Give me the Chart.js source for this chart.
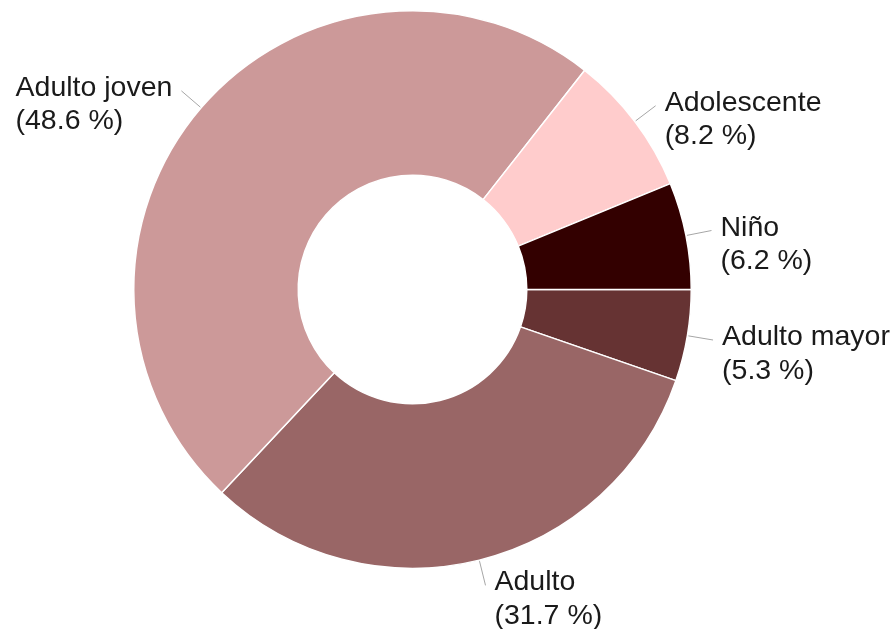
<!DOCTYPE html>
<html lang="es">
<head>
<meta charset="utf-8">
<title>Distribución por grupo de edad</title>
<script src="https://cdn.jsdelivr.net/npm/chart.js@4.4.1/dist/chart.umd.min.js"></script>
<style>
    html, body {
        margin: 0;
        padding: 0;
        background: #ffffff;
    }
    .chart-wrap {
        position: relative;
        width: 896px;
        height: 629px;
    }
</style>
</head>
<body>
<div class="chart-wrap">
    <canvas id="edadChart"></canvas>
</div>
<script>
// Grupos de edad, en orden desde las 3 en punto y en sentido horario
const grupos = ['Adulto mayor', 'Adulto', 'Adulto joven', 'Adolescente', 'Niño'];
const porcentajes = [5.3, 31.7, 48.6, 8.2, 6.2];
const colores = ['#663333', '#996666', '#cc9999', '#ffcccc', '#330000'];

document.addEventListener('DOMContentLoaded', function() {
    initEdadChart();
});

/**
 * Etiquetas fuera del anillo con línea guía
 */
const etiquetasExternas = {
    id: 'etiquetasExternas',
    afterDatasetsDraw(chart) {
        const ctx = chart.ctx;
        const arcs = chart.getDatasetMeta(0).data;
        const lineHeight = 33.5;

        ctx.save();
        ctx.font = '28.5px "Liberation Sans", Arial, sans-serif';
        ctx.textBaseline = 'alphabetic';
        ctx.textAlign = 'left';

        arcs.forEach((arc, i) => {
            const mid = (arc.startAngle + arc.endAngle) / 2;
            const cos = Math.cos(mid);
            const sin = Math.sin(mid);
            const r0 = arc.outerRadius + 1;
            const r1 = arc.outerRadius + 26;

            const x0 = arc.x + cos * r0;
            const y0 = arc.y + sin * r0;
            const x1 = arc.x + cos * r1;
            const y1 = arc.y + sin * r1;

            // línea guía
            ctx.strokeStyle = '#a6a6a6';
            ctx.lineWidth = 1;
            ctx.beginPath();
            ctx.moveTo(x0, y0);
            ctx.lineTo(x1, y1);
            ctx.stroke();

            // texto: nombre y porcentaje en dos líneas, alineadas a la izquierda
            const lineas = [grupos[i], '(' + porcentajes[i].toFixed(1) + ' %)'];
            const ancho = Math.max(...lineas.map(t => ctx.measureText(t).width));
            const tx = cos >= 0 ? x1 + 9 : x1 - 9 - ancho;
            const ty = y1 + 5;

            ctx.fillStyle = '#1a1a1a';
            lineas.forEach((t, j) => ctx.fillText(t, tx, ty + j * lineHeight));
        });

        ctx.restore();
    }
};

/**
 * Gráfico de anillo por grupo de edad
 */
function initEdadChart() {
    const canvas = document.getElementById('edadChart');
    if (!canvas) return;

    const ctx = canvas.getContext('2d');

    new Chart(ctx, {
        type: 'doughnut',
        data: {
            labels: grupos,
            datasets: [{
                data: porcentajes,
                backgroundColor: colores,
                borderColor: '#ffffff',
                borderWidth: 1.5
            }]
        },
        options: {
            responsive: true,
            maintainAspectRatio: false,
            animation: false,
            rotation: 90,
            cutout: '41%',
            layout: {
                padding: {
                    top: 10,
                    bottom: 60,
                    left: 100,
                    right: 171
                }
            },
            plugins: {
                legend: {
                    display: false
                },
                tooltip: {
                    enabled: false
                }
            }
        },
        plugins: [etiquetasExternas]
    });
}
</script>
</body>
</html>
